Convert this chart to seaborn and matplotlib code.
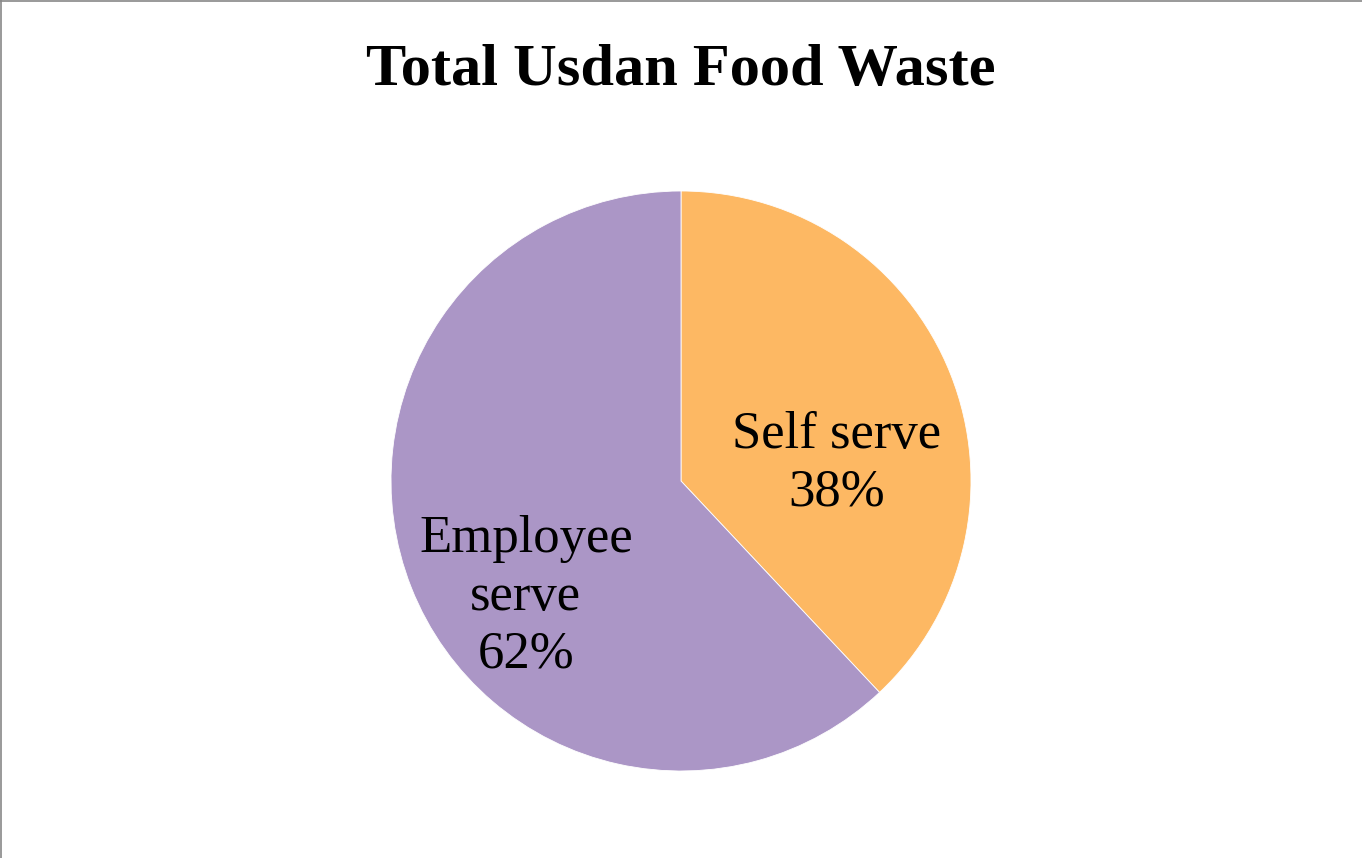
import matplotlib
matplotlib.use("Agg")
import matplotlib.pyplot as plt
import seaborn as sns
from matplotlib.lines import Line2D

sns.set_theme(style="white")
plt.rcParams['font.family'] = ['Liberation Serif', 'DejaVu Serif']

categories = ["Self serve", "Employee serve"]
values = [38, 62]
label_texts = ["Self serve\n38%", "Employee\nserve\n62%"]
colors = ["#FDB863", "#AB96C6"]

title = "Total Usdan Food Waste"

fig = plt.figure(figsize=(13.62, 8.58), dpi=100)
fig.patch.set_facecolor("white")
ax = fig.add_axes([(681 - 290) / 1362, (858 - 771) / 858, 580 / 1362, 580 / 858])

wedges, _ = ax.pie(values, colors=colors, startangle=90, counterclock=False,
                   radius=1, wedgeprops=dict(edgecolor="white", linewidth=0.6))
ax.set_xlim(-1, 1)
ax.set_ylim(-1, 1)
ax.set_aspect("equal")
ax.axis("off")

label_pos = [(0.535, 0.06), (-0.535, -0.40)]
for (x, y), t in zip(label_pos, label_texts):
    ax.text(x, y, t, ha="center", va="center", fontsize=38, color="black",
            linespacing=1.26)

fig.text(681 / 1362, 1 - 71 / 858, title, ha="center", va="center",
         fontsize=43.5, fontweight="bold", color="black")

# thin gray frame lines on top and left edges
fig.add_artist(Line2D([0, 1], [0.999, 0.999], transform=fig.transFigure, color="#888888", lw=1.2))
fig.add_artist(Line2D([0.0005, 0.0005], [0, 1], transform=fig.transFigure, color="#888888", lw=1.2))

fig.savefig("out.png", dpi=100, facecolor="white")
